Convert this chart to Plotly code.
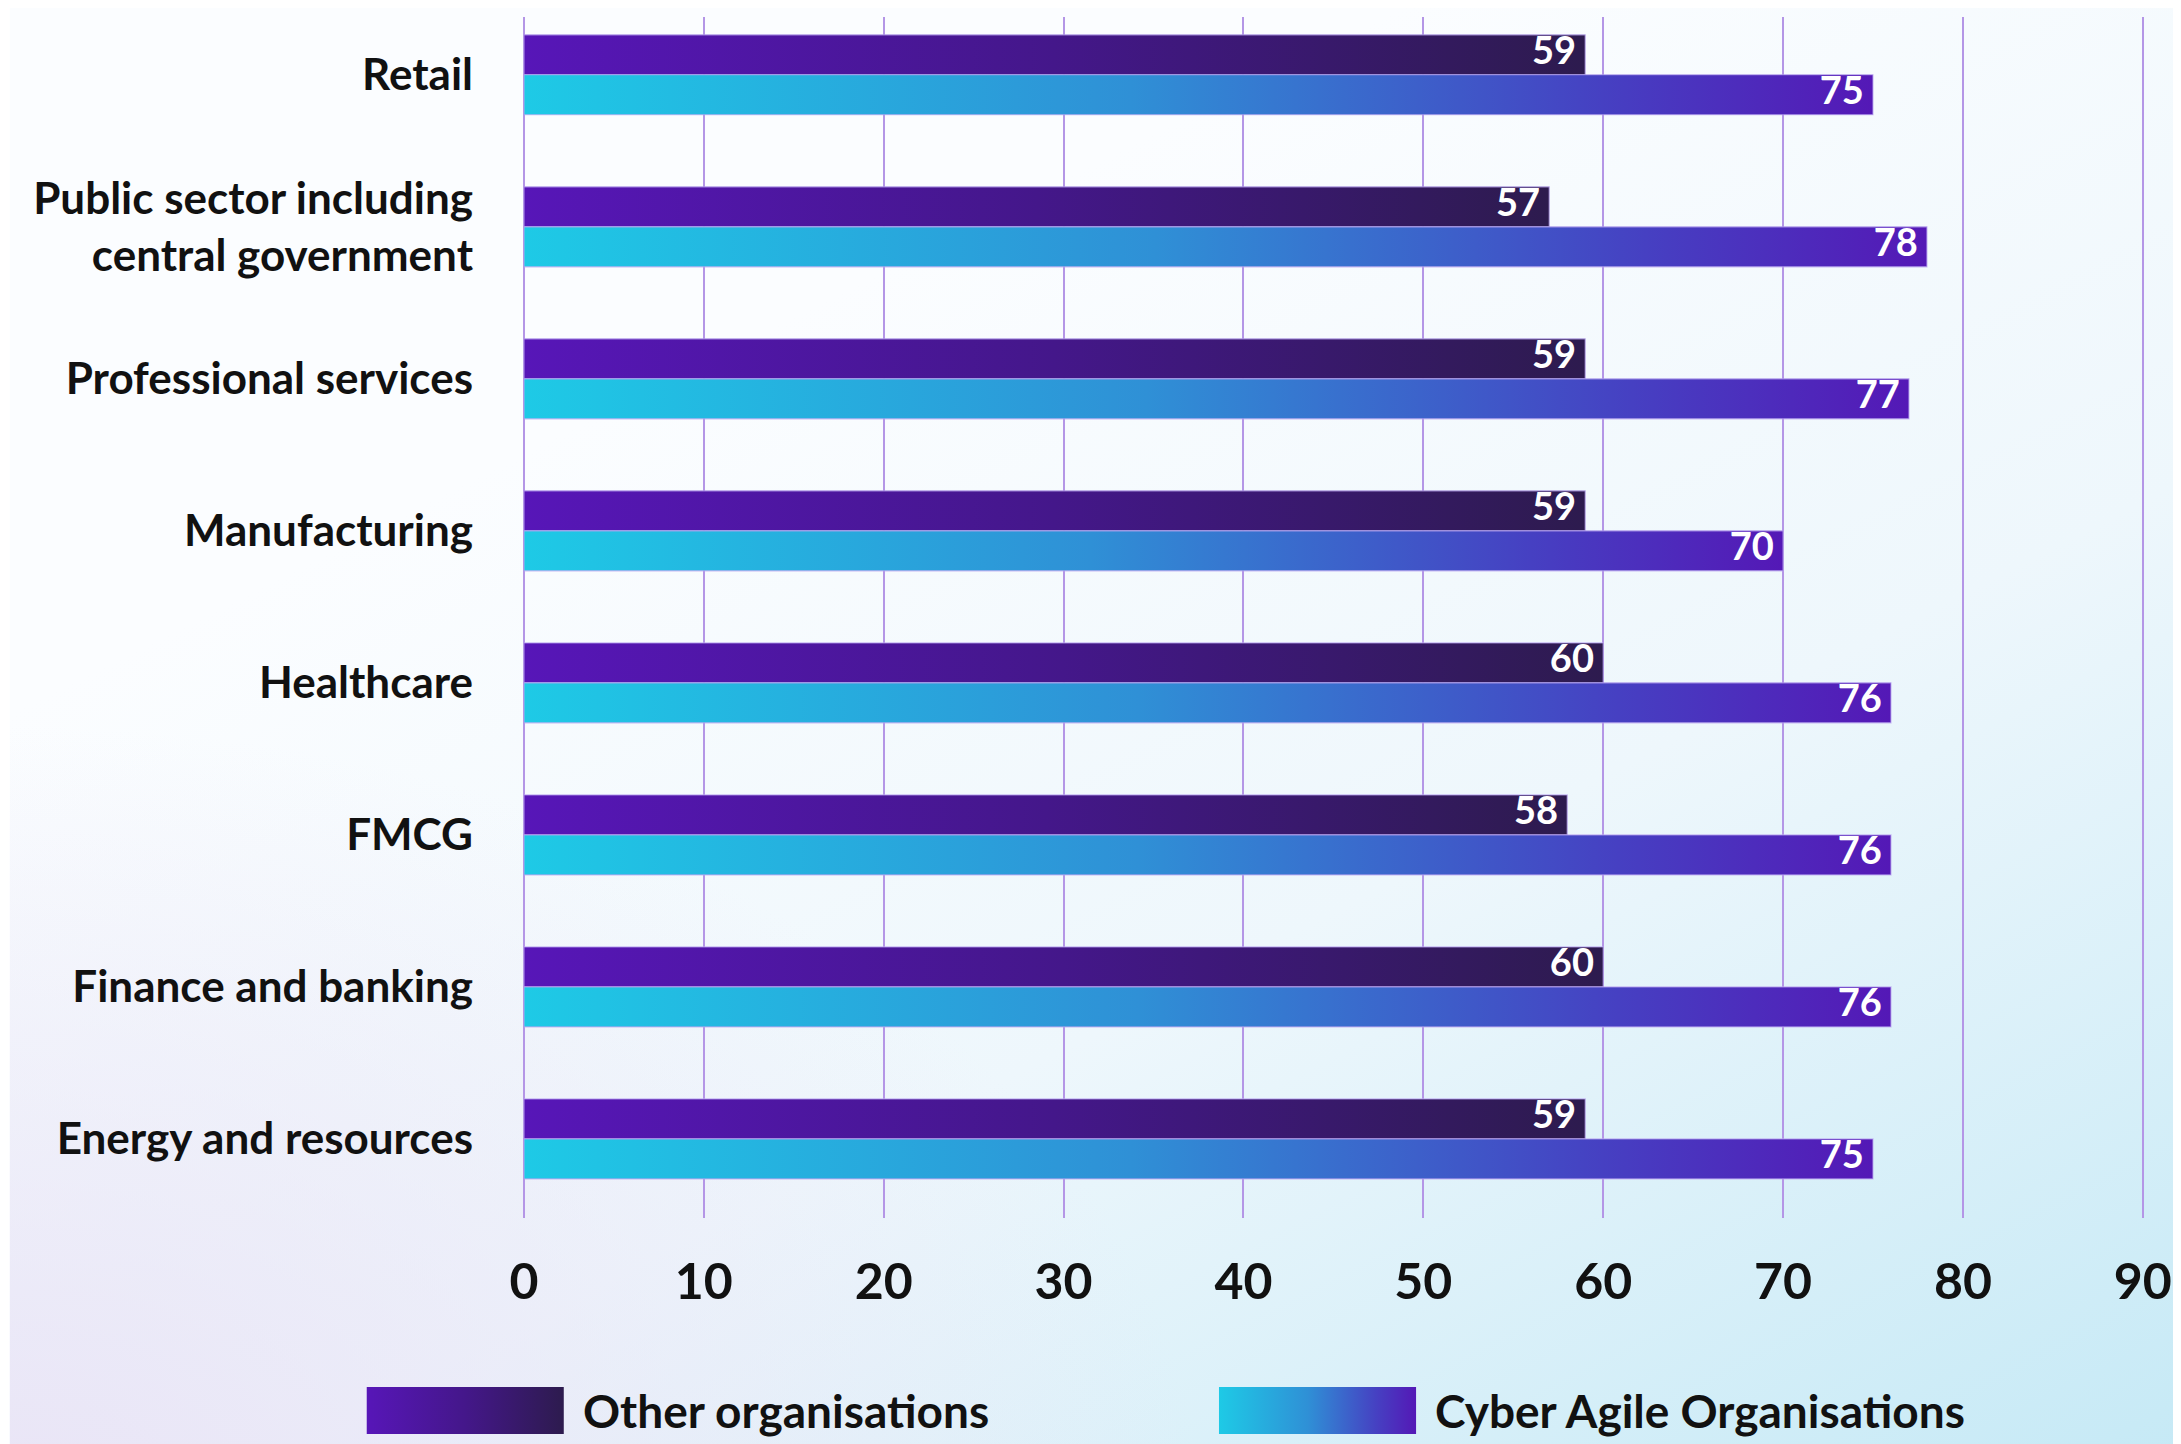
import base64
import plotly.graph_objects as go

# ---------------- data ----------------
categories = [
    "Retail",
    "Public sector including<br>central government",
    "Professional services",
    "Manufacturing",
    "Healthcare",
    "FMCG",
    "Finance and banking",
    "Energy and resources",
]
other_values = [59, 57, 59, 59, 60, 58, 60, 59]
cyber_values = [75, 78, 77, 70, 76, 76, 76, 75]
x_tick_values = [0, 10, 20, 30, 40, 50, 60, 70, 80, 90]
series_names = ["Other organisations", "Cyber Agile Organisations"]

# ---------------- styling / layout ----------------
PAGE = 8                      # default body margin of the html page
W, H = 2181 - PAGE, 1444 - PAGE
M_L, M_R, M_T, M_B = 524 - PAGE, 26, 17 - PAGE, 226
PW = W - M_L - M_R
PH = H - M_T - M_B
X_RANGE = [0, 90.4]
Y_RANGE = [7.52, -0.38]
BAR_H = 0.263

OTHER_SCALE = [[0, "#5716b8"], [0.5, "#44178a"], [1, "#2d1b4e"]]
CYBER_SCALE = [[0, "#1ecae6"], [0.45, "#2f90d6"], [0.8, "#4640c2"], [1, "#5418b6"]]
GRID = "#b496e6"
EDGE = "rgba(185,165,240,0.75)"
FONT = "Lato"
INK = "#111111"


def svg_uri(svg):
    return "data:image/svg+xml;base64," + base64.b64encode(svg.encode()).decode()


def grad_svg(scale):
    stops = "".join(
        f'<stop offset="{p}" stop-color="{c}"/>' for p, c in scale
    )
    return svg_uri(
        '<svg xmlns="http://www.w3.org/2000/svg" width="200" height="50" '
        'preserveAspectRatio="none" viewBox="0 0 200 50">'
        f'<defs><linearGradient id="g" x1="0" y1="0" x2="1" y2="0">{stops}</linearGradient></defs>'
        '<rect width="200" height="50" fill="url(#g)"/></svg>'
    )


bg_svg = svg_uri(
    f'<svg xmlns="http://www.w3.org/2000/svg" width="{W}" height="{H}" '
    f'preserveAspectRatio="none" viewBox="0 0 {W} {H}"><defs>'
    '<linearGradient id="a" x1="0.25" y1="0.3" x2="0.9" y2="1.15">'
    '<stop offset="0" stop-color="#fbfdff"/><stop offset="0.45" stop-color="#eef7fc"/>'
    '<stop offset="1" stop-color="#c2e8f5"/></linearGradient>'
    '<radialGradient id="b" cx="0" cy="1.05" r="0.55">'
    '<stop offset="0" stop-color="#e9e4f6" stop-opacity="1"/>'
    '<stop offset="1" stop-color="#e9e4f6" stop-opacity="0"/></radialGradient>'
    '</defs>'
    f'<rect width="{W}" height="{H}" fill="url(#a)"/>'
    f'<rect width="{W}" height="{H}" fill="url(#b)"/></svg>'
)


def px_x(px):
    # px given in screenshot coordinates
    return (px - PAGE - M_L) / PW


def px_y(py):
    return 1 - (py - PAGE - M_T) / PH


fig = go.Figure()

for i, cat in enumerate(categories):
    o = other_values[i]
    c = cyber_values[i]
    fig.add_trace(go.Scatter(
        x=[0, o, o, 0, 0], y=[i - BAR_H, i - BAR_H, i, i, i - BAR_H],
        mode="lines", fill="toself",
        fillgradient=dict(type="horizontal", colorscale=OTHER_SCALE),
        line=dict(color=EDGE, width=1.2),
        name=series_names[0], legendgroup="o", showlegend=False,
        hoverinfo="skip",
    ))
    fig.add_trace(go.Scatter(
        x=[0, c, c, 0, 0], y=[i, i, i + BAR_H, i + BAR_H, i],
        mode="lines", fill="toself",
        fillgradient=dict(type="horizontal", colorscale=CYBER_SCALE),
        line=dict(color=EDGE, width=1.2),
        name=series_names[1], legendgroup="c", showlegend=False,
        hoverinfo="skip",
    ))

idx = list(range(len(categories)))
label_font = dict(family=FONT, size=38, color="white", weight="bold")
fig.add_trace(go.Scatter(
    x=other_values, y=[i - BAR_H / 2 for i in idx],
    text=[f"{v}\u00a0" for v in other_values], mode="text",
    textposition="middle left", textfont=label_font,
    showlegend=False, hoverinfo="skip",
))
fig.add_trace(go.Scatter(
    x=cyber_values, y=[i + BAR_H / 2 for i in idx],
    text=[f"{v}\u00a0" for v in cyber_values], mode="text",
    textposition="middle left", textfont=label_font,
    showlegend=False, hoverinfo="skip",
))

images = [dict(
    source=bg_svg, xref="paper", yref="paper",
    x=-M_L / PW, y=1 + M_T / PH, sizex=W / PW, sizey=H / PH,
    xanchor="left", yanchor="top", sizing="stretch", layer="below",
)]

legend_items = [
    (series_names[0], OTHER_SCALE, 366, 582),
    (series_names[1], CYBER_SCALE, 1221, 1437),
]
annotations = []
for name, scale, sw_x, tx_x in legend_items:
    images.append(dict(
        source=grad_svg(scale), xref="paper", yref="paper",
        x=px_x(sw_x), y=px_y(1387), sizex=198 / PW, sizey=47 / PH,
        xanchor="left", yanchor="top", sizing="stretch", layer="above",
    ))
    annotations.append(dict(
        text=name, xref="paper", yref="paper", x=px_x(tx_x), y=px_y(1410),
        xanchor="left", yanchor="middle", showarrow=False, borderpad=0,
        font=dict(family=FONT, size=46, color=INK, weight="bold"),
    ))

fig.update_layout(
    width=W, height=H,
    margin=dict(l=M_L, r=M_R, t=M_T, b=M_B, pad=0),
    paper_bgcolor="white", plot_bgcolor="rgba(0,0,0,0)",
    showlegend=False,
    images=images, annotations=annotations,
    xaxis=dict(
        range=X_RANGE, tickvals=x_tick_values,
        showgrid=True, gridcolor=GRID, gridwidth=2,
        zeroline=True, zerolinecolor=GRID, zerolinewidth=2,
        showline=False, ticks="",
        tickfont=dict(family=FONT, size=50, color=INK, weight="bold"),
        ticklabelstandoff=30, ticklabeloverflow="allow", fixedrange=True,
    ),
    yaxis=dict(
        range=Y_RANGE, tickvals=idx, ticktext=categories,
        showgrid=False, zeroline=False, showline=False, ticks="",
        tickfont=dict(family=FONT, size=44, color=INK, weight="bold"),
        ticklabelstandoff=50, fixedrange=True,
    ),
)

fig.write_html("out.html")
